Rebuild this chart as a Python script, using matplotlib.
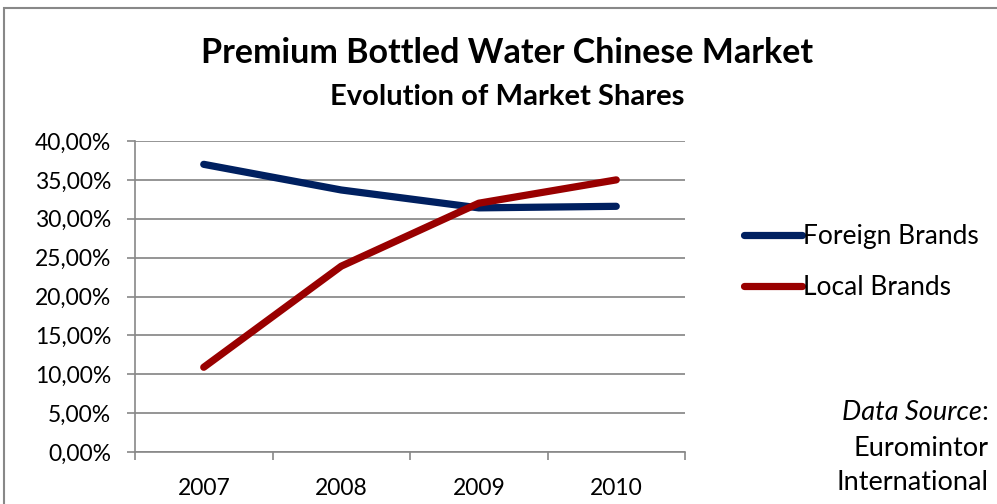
import matplotlib.pyplot as plt
from matplotlib.patches import Rectangle
from matplotlib.ticker import FuncFormatter

years = ["2007", "2008", "2009", "2010"]
foreign = [37.0, 33.7, 31.4, 31.6]
local = [10.9, 23.9, 32.0, 35.0]

plt.rcParams["font.family"] = ["Lato", "DejaVu Sans"]

fig = plt.figure(figsize=(9.97, 5.04), dpi=100)
ax = fig.add_axes([135 / 997, 1 - 452 / 504, 550 / 997, 311 / 504])

x = range(len(years))
ax.plot(x, foreign, color="#002060", lw=5.2, solid_capstyle="round", solid_joinstyle="round", label="Foreign Brands")
ax.plot(x, local, color="#990000", lw=5.2, solid_capstyle="round", solid_joinstyle="round", label="Local Brands")

ax.set_xlim(-0.5, 3.5)
ax.set_ylim(0, 40)
ax.set_yticks(range(0, 41, 5))
ax.yaxis.set_major_formatter(FuncFormatter(lambda v, p: f"{v:.2f}%".replace(".", ",")))
ax.set_xticks([-0.5, 0.5, 1.5, 2.5, 3.5])
ax.set_xticklabels([])
ax.set_xticks(list(x), minor=True)
ax.set_xticklabels(years, minor=True)
ax.tick_params(axis="x", which="major", length=6, color="#888888", width=1.2, direction="out")
ax.tick_params(axis="x", which="minor", length=0, labelsize=16.5, pad=19)
ax.tick_params(axis="y", length=6, color="#888888", width=1.2, labelsize=16.5, pad=11)
ax.grid(axis="y", color="#8c8c8c", lw=1.3)
ax.set_axisbelow(True)
for s in ["top", "right"]:
    ax.spines[s].set_visible(False)
for s in ["left", "bottom"]:
    ax.spines[s].set_color("#888888")
    ax.spines[s].set_linewidth(1.2)

fig.text(507 / 997, 1 - 53 / 504, "Premium Bottled Water Chinese Market", ha="center", va="center",
         fontsize=24.5, fontweight="bold")
fig.text(507 / 997, 1 - 97 / 504, "Evolution of Market Shares", ha="center", va="center",
         fontsize=21, fontweight="bold")

fig.legend(loc="upper left", bbox_to_anchor=(720 / 997, 1 - 200 / 504), frameon=False,
           fontsize=19, handlelength=2.2, handletextpad=0.05, labelspacing=1.0)

fig.text(988 / 997, 1 - 413 / 504, ":", ha="right", va="center", fontsize=19.5)
fig.text(982 / 997, 1 - 413 / 504, "Data Source", ha="right", va="center", fontsize=19.5, style="italic")
fig.text(988 / 997, 1 - 448 / 504, "Euromintor", ha="right", va="center", fontsize=19.5)
fig.text(988 / 997, 1 - 483 / 504, "International", ha="right", va="center", fontsize=19.5)

fig.patches.append(Rectangle((4 / 997, -0.1), 1.1, 1 - 8 / 504 + 0.1, transform=fig.transFigure,
                             fill=False, edgecolor="#888888", lw=1.5))

fig.savefig("out.png", dpi=100)
